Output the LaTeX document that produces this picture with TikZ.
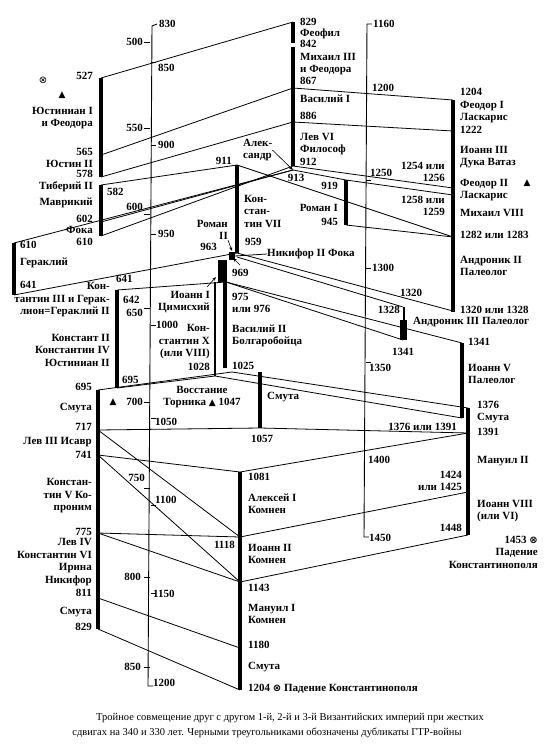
\documentclass[tikz,border=0pt]{standalone}
\usepackage{fontspec}
\setmainfont{Liberation Serif}
\newfontfamily\capfont{Liberation Serif}
\newfontfamily\symfont{DejaVu Sans}
\usetikzlibrary{arrows.meta, positioning, calc}
\newcommand{\fallmark}{{\symfont\fontsize{10}{10}\selectfont ⊗}}
\newcommand{\warmark}{{\symfont\fontsize{9}{9}\selectfont ▲}}

\begin{document}
\begin{tikzpicture}[
    x=1pt, y=-1pt,
    reign/.style={line width=4.5pt},
    thinreign/.style={line width=2.5pt},
    link/.style={line width=0.8pt},
    axis/.style={line width=0.9pt},
    lbl/.style={font=\bfseries\fontsize{11}{12.5}\selectfont, inner sep=0pt, align=center},
    lbll/.style={lbl, anchor=east, align=right},
    lblr/.style={lbl, anchor=west, align=left},
    pointer/.style={-{Stealth[length=4pt,width=3pt]}, line width=0.6pt}
]
\useasboundingbox (0,0) rectangle (555,750);

% Dates of the first empire
\coordinate (i527) at (101,78);
\coordinate (i565) at (101,155);
\coordinate (i578) at (101,177);
\coordinate (i582) at (101,185);
\coordinate (i602) at (101,222);
\coordinate (i610) at (101,236);
\coordinate (h610) at (14,243);
\coordinate (h641) at (14,295);
\coordinate (i641) at (117,290);
\coordinate (i695b) at (117,388);
\coordinate (i695) at (98,390);
\coordinate (i717) at (98,430);
\coordinate (i741) at (98,455);
\coordinate (i775) at (98,533);
\coordinate (i811) at (98,598);
\coordinate (i829) at (98,629);

% Dates of the second empire
\coordinate (ii829) at (293,22);
\coordinate (ii842) at (293,45);
\coordinate (ii867) at (293,88);
\coordinate (ii886) at (293,122);
\coordinate (ii912) at (293,166);
\coordinate (ii913) at (293,170);
\coordinate (ii911) at (237,165);
\coordinate (ii959) at (237,253);
\coordinate (ii919) at (346,180);
\coordinate (ii945) at (346,225);
\coordinate (ii963) at (237,257);
\coordinate (ii976) at (226,282);
\coordinate (ii1025) at (232,372);
\coordinate (ii1028) at (215,376);
\coordinate (ii1025s) at (260,372);
\coordinate (ii1057) at (260,428);
\coordinate (ii1081) at (240,472);
\coordinate (ii1118) at (240,537);
\coordinate (ii1143) at (240,582);
\coordinate (ii1180) at (240,648);
\coordinate (ii1204) at (240,690);

% Dates of the third empire
\coordinate (iii1204) at (453,100);
\coordinate (iii1222) at (453,131);
\coordinate (iii1256) at (453,188);
\coordinate (iii1259) at (453,195);
\coordinate (iii1282) at (453,237);
\coordinate (iii1320) at (453,311);
\coordinate (iii1328) at (403,307);
\coordinate (iii1341a) at (403,340);
\coordinate (iii1341) at (462,343);
\coordinate (iii1376) at (462,418);
\coordinate (iii1376s) at (468,408);
\coordinate (iii1391) at (468,433);
\coordinate (iii1425) at (468,492);
\coordinate (iii1448) at (468,535);

% Scales
\draw[axis] (157,24) -- (152,26) -- (148,686) -- (153,686);
\foreach \y in {42,128,214,308,402,488,577,667}
  \draw[axis] (144,\y) -- (150,\y);
\foreach \y in {62,145,234,325,418,505,593}
  \draw[axis] (151,\y) -- (156,\y);
\draw[axis] (372,24) -- (367,24) -- (364,537) -- (369,537);
\foreach \y in {180,268,362}
  \draw[axis] (366,\y) -- (371,\y);

% Reigns
\draw[reign] (i527) -- (i578);
\draw[reign] (i582) -- (i610);
\draw[reign] (h610) -- (h641);
\draw[reign] (i641) -- (i695b);
\draw[reign] (i695) -- (i829);
\draw[reign] (ii829) -- (293,43);
\draw[reign] (293,47) -- (ii912);
\draw[reign] (ii911) -- (ii959);
\draw[reign] (ii919) -- (ii945);
\fill (229,252) rectangle (235,260);
\fill (218,260) rectangle (227,282);
\draw[thinreign] (215,282) -- (ii1028);
\draw[reign] (225,282) -- (225,368);
\draw[reign] (ii1025s) -- (ii1057);
\draw[reign] (ii1081) -- (ii1204);
\draw[reign] (iii1204) -- (453,312);
\draw[thinreign] (404,307) -- (404,320);
\draw[line width=7pt] (403,320) -- (iii1341a);
\draw[reign] (iii1341) -- (iii1376);
\draw[reign] (iii1376s) -- (iii1448);

% Links
\draw[link] (i527) -- (ii829);
\draw[link] (i565) -- (ii867) -- (iii1204);
\draw[link] (i578) -- (ii886) -- (iii1222);
\draw[link] (i582) -- (ii911) -- (iii1282);
\draw[link] (i602) -- (ii913) -- (ii919) -- (iii1259);
\draw[link] (i610) -- (ii912) -- (iii1256);
\draw[link] (h610) -- (ii913);
\draw[link] (ii945) -- (iii1282);
\draw[link] (h641) -- (ii959) -- (iii1320);
\draw[link] (ii963) -- (iii1328);
\draw[link] (i641) -- (ii976) -- (iii1341);
\draw[link] (ii976) -- (iii1341a);
\draw[link] (i695) -- (ii1025) -- (iii1376s);
\draw[link] (i695b) -- (ii1028) -- (iii1376);
\draw[link] (i717) -- (ii1057) -- (iii1391);
\draw[link] (i741) -- (ii1081) -- (iii1391);
\draw[link] (i717) -- (ii1118);
\draw[link] (i741) -- (ii1143);
\draw[link] (i775) -- (ii1118) -- (iii1425);
\draw[link] (i775) -- (ii1143) -- (iii1448);
\draw[link] (i811) -- (ii1180);
\draw[link] (i829) -- (ii1204);

% Scale labels
\node[lbll] (s500) at (143,42) {500};
\node[lbll] (s550) at (143,128) {550};
\node[lbll] (s600) at (143,207) {600};
\node[lbll] (s650) at (143,313) {650};
\node[lbll] (s700) at (143,402) {700};
\node[lbll] (s750) at (145,478) {750};
\node[lbll] (s800) at (141,577) {800};
\node[lbll] (s850) at (141,667) {850};
\node[lblr] (s830) at (159,24) {830};
\node[lblr] (s850b) at (158,68) {850};
\node[lblr] (s900) at (158,145) {900};
\node[lblr] (s950) at (158,234) {950};
\node[lblr] (s1000) at (156,325) {1000};
\node[lblr] (s1050) at (155,422) {1050};
\node[lblr] (s1100) at (155,500) {1100};
\node[lblr] (s1150) at (153,594) {1150};
\node[lblr] (s1200) at (153,683) {1200};
\node[lblr] (t1160) at (373,24) {1160};
\node[lblr] (t1200) at (372,88) {1200};
\node[lblr] (t1250) at (370,173) {1250};
\node[lblr] (t1300) at (372,268) {1300};
\node[lblr] (t1350) at (369,368) {1350};
\node[lblr] (t1400) at (368,460) {1400};
\node[lblr] (t1450) at (369,538) {1450};

% First empire
\node (fall1) at (43,80) {\fallmark};
\node (war1) at (62,95) {\warmark};
\node[lbll] (n527) at (93,76) {527};
\node[lbll] (n527b) at (93,118) {Юстиниан I\\и Феодора};
\node[lbll] (n565) at (93,152) {565};
\node[lbll] (n565b) at (93,164) {Юстин II};
\node[lbll] (n578) at (93,174) {578};
\node[lbll] (n578b) at (93,187) {Тиберий II};
\node[lbll] (n582b) at (93,203) {Маврикий};
\node[lblr] (n582) at (107,192) {582};
\node[lbll] (n602) at (93,219) {602};
\node[lbll] (n602b) at (93,230) {Фока};
\node[lbll] (n610) at (93,242) {610};
\node[lblr] (h610l) at (20,245) {610};
\node[lblr] (h610b) at (20,263) {Гераклий};
\node[lblr] (h641l) at (20,285) {641};
\node[lbll] (n641b) at (110,300) {Кон-\\тантин III и Герак-\\лион=Гераклий II};
\node[lblr] (n641) at (116,279) {641};
\node[lblr] (n642) at (123,300) {642};
\node[lbll] (n668) at (110,350) {Констант II\\Константин IV\\Юстиниан II};
\node[lblr] (n695b) at (122,380) {695};
\node[lbll] (n695) at (92,387) {695};
\node[lbll] (n695c) at (92,408) {Смута};
\node[lbll] (n717) at (92,427) {717};
\node[lbll] (n717b) at (92,442) {Лев III Исавр};
\node[lbll] (n741) at (92,455) {741};
\node[lbll] (n741b) at (92,496) {Констан-\\тин V Ко-\\проним};
\node[lbll] (n775) at (92,532) {775};
\node[lbll] (n775b) at (92,562) {Лев IV\\Константин VI\\Ирина\\Никифор};
\node[lbll] (n811) at (92,593) {811};
\node[lbll] (n811b) at (92,612) {Смута};
\node[lbll] (n829) at (92,627) {829};
\node (war2) at (113,402) {\warmark};

% Second empire
\node[lblr] (m829) at (300,22) {829};
\node[lblr] (m829b) at (300,34) {Феофил};
\node[lblr] (m842) at (300,44) {842};
\node[lblr] (m842b) at (300,64) {Михаил III\\и Феодора};
\node[lblr] (m867) at (300,81) {867};
\node[lblr] (m867b) at (300,99) {Василий I};
\node[lblr] (m886) at (300,116) {886};
\node[lblr] (m886b) at (300,144) {Лев VI\\Философ};
\node[lblr] (m912) at (300,162) {912};
\node[lbl] (m913) at (296,178) {913};
\node[lblr] (m912b) at (243,150) {Алек-\\сандр};
\draw[pointer] (m912b.east) -- (ii913);
\node[lbll] (m911) at (232,161) {911};
\node[lblr] (m913b) at (244,211) {Кон-\\стан-\\тин VII};
\node[lbll] (m919) at (338,186) {919};
\node[lbll] (m919b) at (338,208) {Роман I};
\node[lbll] (m945) at (338,222) {945};
\node[lblr] (m959) at (245,242) {959};
\node[lbll] (m959b) at (228,230) {Роман\\II};
\draw[pointer] (m959b.south east) -- (232,251);
\node[lbll] (m963) at (217,247) {963};
\node[lblr] (m963b) at (267,254) {Никифор II Фока};
\draw[link] (m963b.west) -- (235,256);
\node[lblr] (m969) at (232,273) {969};
\draw[pointer] (240,265) -- (233,258);
\node[lbll] (m969b) at (210,302) {Иоанн I\\Цимисхий};
\draw[pointer] (207,287) -- (216,277);
\node[lblr] (m976) at (232,303) {975\\или 976};
\node[lblr] (m976b) at (232,336) {Василий II\\Болгаробойца};
\node[lbll] (m1025b) at (210,342) {Кон-\\стантин X\\(или VIII)};
\node[lbll] (m1028) at (210,367) {1028};
\node[lblr] (m1025) at (232,366) {1025};
\node[lbl] (m1047) at (202,397) {Восстание\\Торника \warmark\ 1047};
\node[lblr] (m1025c) at (267,397) {Смута};
\node[lbl] (m1057) at (262,439) {1057};
\node[lblr] (m1081) at (248,477) {1081};
\node[lblr] (m1081b) at (248,504) {Алексей I\\Комнен};
\node[lbll] (m1118) at (235,545) {1118};
\node[lblr] (m1118b) at (248,554) {Иоанн II\\Комнен};
\node[lblr] (m1143) at (248,588) {1143};
\node[lblr] (m1143b) at (248,614) {Мануил I\\Комнен};
\node[lblr] (m1180) at (248,645) {1180};
\node[lblr] (m1180b) at (248,667) {Смута};
\node[lblr] (m1204) at (248,689) {1204 \fallmark\ Падение Константинополя};

% Third empire
\node[lblr] (r1204) at (460,92) {1204};
\node[lblr] (r1204b) at (460,112) {Феодор I\\Ласкарис};
\node[lblr] (r1222) at (460,130) {1222};
\node[lblr] (r1222b) at (460,157) {Иоанн III\\Дука Ватаз};
\node[lblr] (r1254b) at (460,190) {Феодор II\\Ласкарис};
\node (war3) at (527,183) {\warmark};
\node[lblr] (r1259b) at (460,213) {Михаил VIII};
\node[lblr] (r1282) at (460,235) {1282 или 1283};
\node[lblr] (r1282b) at (460,266) {Андроник II\\Палеолог};
\node[lblr] (r1320) at (460,310) {1320 или 1328};
\node[lbll] (r1254) at (445,172) {1254 или\\1256};
\node[lbll] (r1258) at (445,206) {1258 или\\1259};
\node[lbl] (r1320b) at (411,293) {1320};
\node[lbll] (r1328) at (400,310) {1328};
\node[lblr] (r1328b) at (413,322) {Андроник III Палеолог};
\node[lbl] (r1341a) at (403,352) {1341};
\node[lblr] (r1341) at (468,342) {1341};
\node[lblr] (r1341b) at (468,374) {Иоанн V\\Палеолог};
\node[lblr] (r1376) at (477,405) {1376};
\node[lblr] (r1376b) at (477,418) {Смута};
\node[lblr] (r1391) at (477,432) {1391};
\node[lbll] (r1391b) at (457,427) {1376 или 1391};
\node[lblr] (r1391c) at (477,461) {Мануил II};
\node[lbll] (r1425) at (462,481) {1424\\или 1425};
\node[lblr] (r1425b) at (477,511) {Иоанн VIII\\(или VI)};
\node[lbll] (r1448) at (462,528) {1448};
\node[lbll, anchor=north east] (r1453) at (538,536) {1453 \fallmark\\Падение\\Константинополя};

% Caption
\node[font=\capfont\fontsize{10.5}{12}\selectfont, inner sep=0pt] (cap1) at (290,718) {Тройное совмещение друг с другом 1-й, 2-й и 3-й Византийских империй при жестких};
\node[font=\capfont\fontsize{10.5}{12}\selectfont, inner sep=0pt] (cap2) at (267,733) {сдвигах на 340 и 330 лет. Черными треугольниками обозначены дубликаты ГТР-войны};
\end{tikzpicture}
\end{document}
